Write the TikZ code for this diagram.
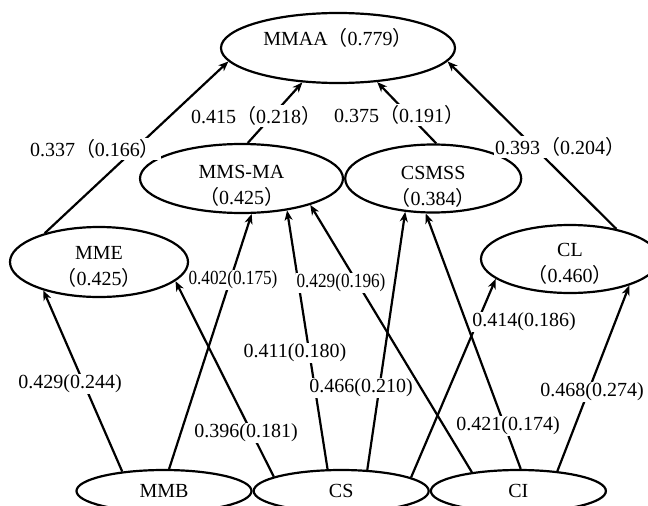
\documentclass[tikz,border=0pt]{standalone}
\usepackage{fontspec}
\setmainfont{Liberation Serif}
\newfontfamily\cjkfont{Noto Sans CJK SC}
\usepackage{graphicx}
\usepackage{tikz}
\usetikzlibrary{shapes.geometric, arrows.meta, positioning}
\newcommand{\fwl}{{\cjkfont （}}
\newcommand{\fwr}{{\cjkfont ）}}

\begin{document}
\begin{tikzpicture}[
    x=1pt, y=-1pt,
    factor/.style={
        ellipse,
        draw=black,
        line width=2.2pt,
        inner sep=0pt,
        font=\fontsize{20}{26}\selectfont
    },
    factortext/.style={
        align=center,
        inner sep=0pt,
        font=\fontsize{20}{26}\selectfont
    },
    edge/.style={-{Stealth[length=10pt, width=8pt, inset=3pt]}, line width=2.2pt, draw=black},
    coef/.style={fill=white, inner sep=1pt, font=\fontsize{20}{24}\selectfont}
]
    \useasboundingbox (0,0) rectangle (648,506);
    \clip (0,0) rectangle (648,506);

    % factors
    \node[factor, minimum width=234pt, minimum height=70pt] (mmaa) at (338,48) {};
    \node[factor, minimum width=203pt, minimum height=69pt] (mmsma) at (241.5,178.5) {};
    \node[factor, minimum width=176pt, minimum height=68pt, right=0pt of mmsma] (csmss) {};
    \node[factor, minimum width=178pt, minimum height=70pt] (mme) at (99,262) {};
    \node[factor, minimum width=178pt, minimum height=68pt] (cl) at (570,259) {};
    \node[factor, minimum width=175pt, minimum height=42pt] (mmb) at (164,491) {MMB};
    \node[factor, minimum width=175pt, minimum height=42pt, right=0pt of mmb] (cs) {CS};
    \node[factor, minimum width=175pt, minimum height=42pt, right=0pt of cs] (ci) {CI};

    \node[factortext] (mmaa-t) at ([yshift=10pt]mmaa.center) {MMAA\fwl 0.779\fwr};
    \node[factortext] (mmsma-t) at ([yshift=-7pt]mmsma.center) {MMS-MA\\\fwl 0.425\fwr};
    \node[factortext] (csmss-t) at ([yshift=-8pt]csmss.center) {CSMSS\\\fwl 0.384\fwr};
    \node[factortext] (mme-t) at ([yshift=-5pt]mme.center) {MME\\\fwl 0.425\fwr};
    \node[factortext] (cl-t) at ([yshift=-5pt]cl.center) {CL\\\fwl 0.460\fwr};

    % paths
    \draw[edge] (mme.152.8) -- (mmaa.187.8);
    \draw[edge] (mmsma.80.9) -- (mmaa.224);
    \draw[edge] (csmss.85.5) -- (mmaa.-41.4);
    \draw[edge] (cl.33.1) -- (mmaa.-7.8);
    \draw[edge] (mmb.155.7) -- (mme.207.2);
    \draw[edge] (mmb.77.9) -- (mmsma.-74.5);
    \draw[edge] (cs.168.7) -- (mme.-14.8);
    \draw[edge] (cs.122) -- (mmsma.-35.3);
    \draw[edge] (ci.158.2) -- (mmsma.-21);
    \draw[edge] (cs.39.3) -- (csmss.-130.3);
    \draw[edge] (ci.84.8) -- (csmss.-102.2);
    \draw[edge] (cs.11.6) -- (cl.-165);
    \draw[edge] (ci.27.4) -- (cl.-24.6);

    % coefficients
    \node[coef] (c-mme) at (95,149) {0.337\fwl 0.166\fwr};
    \node[coef] (c-mmsma) at (256,116) {0.415\fwl 0.218\fwr};
    \node[coef] (c-csmss) at (399,115) {0.375\fwl 0.191\fwr};
    \node[coef] (c-cl) at (560,147) {0.393\fwl 0.204\fwr};
    \node[coef] (c-mmb-mme) at (70,384) {0.429(0.244)};
    \node[coef] (c-mmb-mmsma) at (233,280) {\scalebox{0.86}[1]{0.402(0.175)}};
    \node[coef] (c-cs-mme) at (246,433) {0.396(0.181)};
    \node[coef] (c-cs-mmsma) at (295,353) {0.411(0.180)};
    \node[coef] (c-ci-mmsma) at (341,283) {\scalebox{0.86}[1]{0.429(0.196)}};
    \node[coef] (c-cs-csmss) at (361,388) {0.466(0.210)};
    \node[coef] (c-ci-csmss) at (508,426) {0.421(0.174)};
    \node[coef] (c-cs-cl) at (524,322) {0.414(0.186)};
    \node[coef] (c-ci-cl) at (592,392) {0.468(0.274)};
\end{tikzpicture}
\end{document}
